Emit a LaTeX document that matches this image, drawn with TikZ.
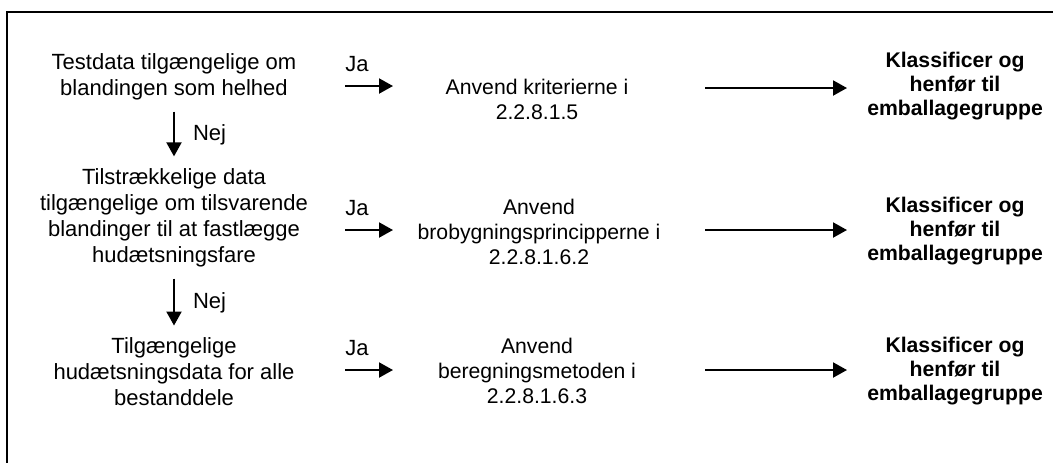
\documentclass[tikz,border=0pt]{standalone}
\usepackage{fontspec}
\setmainfont{Liberation Sans}
\usetikzlibrary{arrows.meta,positioning}

\begin{document}
\begin{tikzpicture}[
    x=0.5pt,
    y=-0.5pt,
    every node/.style={
        inner sep=0pt,
        align=center,
        font=\fontsize{11}{13}\selectfont
    },
    step text/.style={font=\fontsize{10.6}{12.5}\selectfont},
    result/.style={font=\fontsize{10.6}{12}\selectfont\bfseries},
    arr/.style={draw,line width=1pt,-{Triangle[length=7pt,width=7.5pt]}},
    frame/.style={draw,line width=1pt}
]
\useasboundingbox (0,0) rectangle (1053,463);
\draw[frame] (1053,12) -- (7,12) -- (7,463);

% questions
\node (test) at (174,77) {Testdata tilgængelige om\\blandingen som helhed};
\node (data) at (174,218) {Tilstrækkelige data\\tilgængelige om tilsvarende\\blandinger til at fastlægge\\hudætsningsfare};
\node (comp) at (174,372) {Tilgængelige\\hudætsningsdata for alle\\bestanddele};

% methods
\node[step text] (crit) at (537,99) {Anvend kriterierne i\\2.2.8.1.5};
\node[step text] (bridge) at (539,232) {Anvend\\brobygningsprincipperne i\\2.2.8.1.6.2};
\node[step text] (calc) at (537,371) {Anvend\\beregningsmetoden i\\2.2.8.1.6.3};

% results
\node[result] (cls1) at (955,86) {Klassificer og\\henfør til\\emballagegruppe};
\node[result] (cls2) at (955,231) {Klassificer og\\henfør til\\emballagegruppe};
\node[result] (cls3) at (955,371) {Klassificer og\\henfør til\\emballagegruppe};

% Nej
\draw[arr,shorten <=5.5pt,shorten >=6pt] (test) -- (data)
    node[pos=0.5,right=9pt] (nej1) {Nej};
\draw[arr,shorten <=5.5pt,shorten >=6pt] (data) -- (comp)
    node[pos=0.5,right=9pt] (nej2) {Nej};

% Ja
\coordinate (ja1a) at (345,86);  \coordinate (ja1b) at (393,86);
\coordinate (ja2a) at (345,230); \coordinate (ja2b) at (393,230);
\coordinate (ja3a) at (345,370); \coordinate (ja3b) at (393,370);
\node[anchor=south west] (ja1) at ([yshift=7pt]ja1a) {Ja};
\node[anchor=south west] (ja2) at ([yshift=7pt]ja2a) {Ja};
\node[anchor=south west] (ja3) at ([yshift=7pt]ja3a) {Ja};
\draw[arr] (ja1a) -- (ja1b);
\draw[arr] (ja2a) -- (ja2b);
\draw[arr] (ja3a) -- (ja3b);

% to the results
\coordinate (res1a) at (705,88);  \coordinate (res1b) at (847,88);
\coordinate (res2a) at (705,230); \coordinate (res2b) at (847,230);
\coordinate (res3a) at (705,370); \coordinate (res3b) at (847,370);
\draw[arr] (res1a) -- (res1b);
\draw[arr] (res2a) -- (res2b);
\draw[arr] (res3a) -- (res3b);
\end{tikzpicture}
\end{document}
